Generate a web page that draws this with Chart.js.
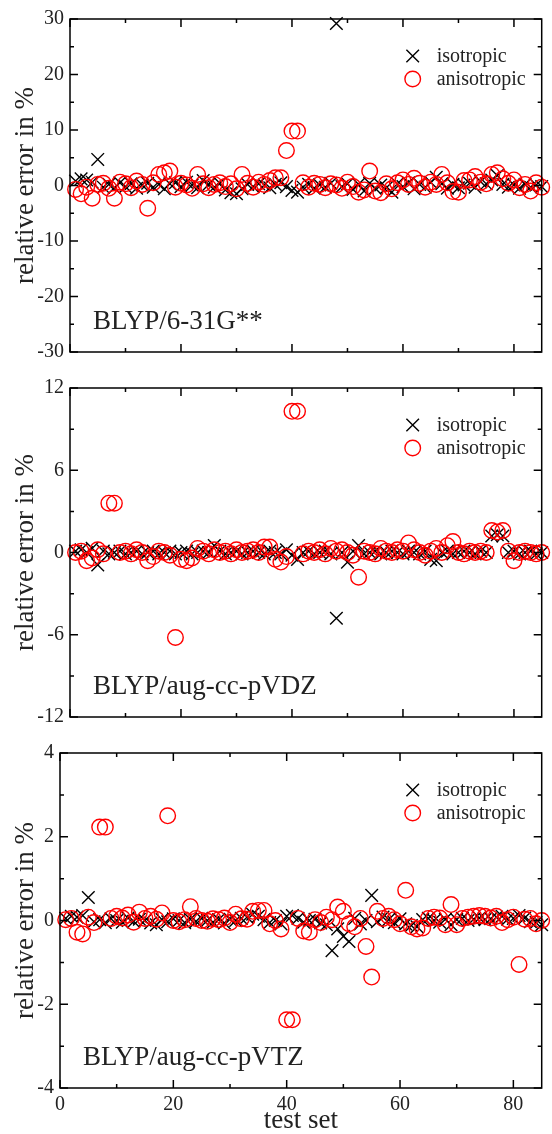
<!DOCTYPE html>
<html>
<head>
<meta charset="utf-8">
<title>BLYP relative error</title>
<script src="https://cdn.jsdelivr.net/npm/chart.js@4.4.0/dist/chart.umd.min.js"></script>
<style>
  html, body { margin: 0; padding: 0; background: #fff; }
  #page { position: relative; width: 552px; height: 1134px; overflow: hidden; }
  canvas { position: absolute; left: 0; }
</style>
</head>
<body>
<div id="page">
  <canvas id="g0" width="552" height="370" style="top:0px"></canvas>
  <canvas id="g1" width="552" height="365" style="top:370px"></canvas>
  <canvas id="g2" width="552" height="399" style="top:735px"></canvas>
</div>
<script>
// test set index (x)
const testSet = [
  1, 2, 3, 4, 5, 6, 7, 8, 9, 10,
  11, 12, 13, 14, 15, 16, 17, 18, 19, 20,
  21, 22, 23, 24, 25, 26, 27, 28, 29, 30,
  31, 32, 33, 34, 35, 36, 37, 38, 39, 40,
  41, 42, 43, 44, 45, 46, 47, 48, 49, 50,
  51, 52, 53, 54, 55, 56, 57, 58, 59, 60,
  61, 62, 63, 64, 65, 66, 67, 68, 69, 70,
  71, 72, 73, 74, 75, 76, 77, 78, 79, 80,
  81, 82, 83, 84, 85
];

// BLYP/6-31G**
const iso631 = [
  0.8, 1.2, 1.0, 0.6, 4.7, -0.3, 0.2, -0.4, 0.5, -0.2,
  0.3, -0.5, 0.1, 0.4, -0.3, 0.2, -0.6, 0.3, 0.5, -0.2,
  0.6, 0.1, -0.4, 0.9, 0.2, -0.3, 0.4, -0.8, -1.3, -1.5,
  -0.6, 0.2, -0.2, 0.3, 0.1, -0.4, 0.2, 0.5, -0.2, -0.9,
  -1.2, -0.3, 0.2, -0.5, 0.1, -0.3, 0.4, 29.2, -0.2, 0.3,
  -0.7, 0.2, -1.0, 0.4, -0.5, 0.1, -0.4, -1.2, 0.3, -0.2,
  0.5, -0.6, 0.2, -0.3, 0.6, 1.5, 0.3, -0.5, 0.2, -0.4,
  0.1, 0.4, -0.3, 0.7, 0.3, 1.0, 1.8, 0.2, -0.3, 0.1,
  -0.5, 0.2, -0.3, 0.1, -0.2
];
const aniso631 = [
  -0.7, -1.5, -0.3, -2.3, 0.2, 0.4, -0.5, -2.3, 0.6, 0.3,
  -0.4, 0.8, 0.2, -4.1, 0.5, 2.0, 2.3, 2.6, -0.3, 0.4,
  0.1, -0.5, 2.0, 0.3, -0.4, 0.2, 0.5, -0.2, 0.3, -0.6,
  2.0, 0.4, -0.3, 0.6, 0.2, 0.9, 1.4, 1.4, 6.3, 9.8,
  9.8, 0.5, -0.3, 0.4, 0.2, -0.4, 0.3, 0.1, -0.5, 0.6,
  -0.2, -1.2, -0.8, 2.6, -1.0, -1.3, 0.3, -0.6, 0.5, 1.0,
  0.2, 1.3, 0.4, -0.3, 0.6, 0.2, 2.0, 0.5, -1.1, -1.2,
  0.9, 1.0, 1.6, 0.6, 0.3, 2.0, 2.3, 1.2, 0.4, 1.0,
  -0.4, 0.2, -1.0, 0.5, -0.3
];

// BLYP/aug-cc-pVDZ
const isoVDZ = [
  0.1, 0.2, 0.0, 0.3, -0.9, 0.1, -0.1, 0.0, 0.1, -0.1,
  0.0, 0.1, -0.1, 0.0, 0.1, -0.1, 0.0, 0.1, -0.1, 0.0,
  0.1, -0.1, 0.0, 0.1, 0.0, 0.5, 0.1, -0.1, 0.0, 0.1,
  -0.1, 0.0, 0.1, 0.0, -0.1, 0.1, 0.0, -0.1, 0.2, -0.2,
  -0.5, 0.0, 0.1, -0.1, 0.0, 0.1, -0.1, -4.8, 0.0, -0.7,
  0.1, 0.5, -0.1, 0.0, 0.1, -0.1, 0.0, 0.1, 0.0, -0.1,
  0.1, 0.0, -0.1, 0.1, -0.5, -0.6, 0.0, 0.1, -0.1, 0.0,
  0.1, 0.0, -0.1, 0.1, 0.0, 1.2, 1.3, 1.2, 0.0, 0.1,
  -0.1, 0.0, 0.1, -0.1, 0.0
];
const anisoVDZ = [
  0.0, 0.1, -0.6, -0.4, 0.2, -0.1, 3.6, 3.6, 0.0, 0.1,
  -0.1, 0.2, 0.0, -0.6, -0.3, 0.1, 0.0, -0.2, -6.2, -0.5,
  -0.6, -0.4, 0.3, 0.1, -0.1, 0.2, 0.0, 0.1, -0.1, 0.2,
  0.0, 0.1, 0.2, 0.0, 0.4, 0.4, -0.5, -0.7, -0.3, 10.3,
  10.3, -0.1, 0.1, 0.0, 0.2, -0.1, 0.3, 0.1, 0.2, 0.0,
  -0.2, -1.8, 0.1, 0.0, -0.1, 0.3, 0.1, 0.0, 0.2, 0.1,
  0.7, 0.2, 0.0, -0.2, 0.1, 0.3, 0.0, 0.5, 0.8, 0.0,
  -0.1, 0.1, 0.0, 0.1, 0.0, 1.6, 1.5, 1.6, 0.1, -0.6,
  0.0, 0.1, 0.0, -0.1, 0.0
];

// BLYP/aug-cc-pVTZ
const isoVTZ = [
  0.05, 0.1, 0.08, 0.12, 0.55, -0.03, 0.02, -0.05, 0.04, 0.0,
  -0.04, 0.06, -0.02, 0.03, 0.0, -0.06, -0.1, 0.02, -0.03, 0.04,
  0.0, -0.05, 0.03, -0.02, 0.05, 0.0, -0.04, 0.02, -0.06, 0.03,
  0.0, 0.05, 0.08, 0.15, 0.1, 0.02, -0.05, 0.0, -0.08, 0.1,
  0.12, 0.05, -0.04, 0.0, 0.03, -0.06, -0.1, -0.72, -0.2, -0.38,
  -0.5, 0.05, -0.08, 0.0, 0.6, -0.03, 0.08, 0.02, -0.05, 0.04,
  -0.08, -0.12, -0.15, 0.02, 0.05, 0.0, -0.04, 0.03, -0.1, 0.02,
  0.05, 0.0, 0.03, 0.06, 0.02, 0.04, 0.08, 0.1, 0.03, 0.05,
  0.12, 0.06, -0.03, -0.05, -0.1
];
const anisoVTZ = [
  0.02, 0.05, -0.28, -0.32, 0.08, -0.05, 2.23, 2.23, 0.05, 0.1,
  0.06, 0.13, -0.04, 0.2, 0.05, 0.1, 0.03, 0.18, 2.5, 0.0,
  -0.03, 0.02, 0.33, 0.05, 0.0, -0.02, 0.04, 0.02, 0.06, -0.05,
  0.15, 0.04, 0.03, 0.22, 0.24, 0.24, -0.08, 0.0, -0.2, -2.37,
  -2.37, 0.05, -0.25, -0.28, 0.02, -0.05, 0.08, 0.02, 0.32, 0.22,
  -0.08, -0.15, 0.05, -0.62, -1.35, 0.22, 0.05, 0.1, 0.02, -0.08,
  0.72, -0.15, -0.2, -0.18, 0.05, 0.08, 0.06, -0.1, 0.38, -0.1,
  0.05, 0.08, 0.1, 0.12, 0.1, 0.06, 0.1, -0.05, 0.02, 0.08,
  -1.05, 0.03, 0.05, -0.08, 0.0
];

// axis ticks
const xTicks = [0, 20, 40, 60, 80];
const xMinorTicks = [10, 30, 50, 70];
const yTicks631 = [-30, -20, -10, 0, 10, 20, 30];
const yMinor631 = [-25, -15, -5, 5, 15, 25];
const yTicksVDZ = [-12, -6, 0, 6, 12];
const yMinorVDZ = [-9, -3, 3, 9];
const yTicksVTZ = [-4, -2, 0, 2, 4];
const yMinorVTZ = [-3, -1, 1, 3];

const panelNames = ['BLYP/6-31G**', 'BLYP/aug-cc-pVDZ', 'BLYP/aug-cc-pVTZ'];
const seriesNames = ['isotropic', 'anisotropic'];

const SERIF = '"Liberation Serif", "DejaVu Serif", serif';
const INK = '#222';

function toPoints(values) {
    return testSet.map((x, i) => ({ x: x, y: values[i] }));
}

// frame with inward ticks, panel name and legend drawn on top of the marks
function makeFrame(panel) {
    return {
        id: 'frame',
        afterDatasetsDraw(chart) {
            const { ctx, chartArea: a, scales: { x, y } } = chart;
            ctx.save();
            ctx.strokeStyle = '#000';
            ctx.lineWidth = 1.5;
            ctx.strokeRect(a.left, a.top, a.right - a.left, a.bottom - a.top);

            ctx.beginPath();
            const xTick = (v, len) => {
                const px = x.getPixelForValue(v);
                ctx.moveTo(px, a.bottom); ctx.lineTo(px, a.bottom - len);
                ctx.moveTo(px, a.top); ctx.lineTo(px, a.top + len);
            };
            const yTick = (v, len) => {
                const py = y.getPixelForValue(v);
                ctx.moveTo(a.left, py); ctx.lineTo(a.left + len, py);
                ctx.moveTo(a.right, py); ctx.lineTo(a.right - len, py);
            };
            xTicks.forEach(v => xTick(v, 8));
            xMinorTicks.forEach(v => xTick(v, 4));
            panel.yTicks.forEach(v => yTick(v, 8));
            panel.yMinor.forEach(v => yTick(v, 4));
            ctx.stroke();

            // panel name
            ctx.fillStyle = INK;
            ctx.font = '27px ' + SERIF;
            ctx.textAlign = 'left';
            ctx.textBaseline = 'alphabetic';
            ctx.fillText(panel.name, a.left + 23, a.bottom - 23);

            // legend
            const lx = a.right - 129;
            const ly = a.top + 37;
            ctx.lineWidth = 1.4;
            ctx.strokeStyle = '#000';
            ctx.beginPath();
            ctx.moveTo(lx - 6.3, ly - 6.3); ctx.lineTo(lx + 6.3, ly + 6.3);
            ctx.moveTo(lx - 6.3, ly + 6.3); ctx.lineTo(lx + 6.3, ly - 6.3);
            ctx.stroke();
            ctx.strokeStyle = '#ff0000';
            ctx.beginPath();
            ctx.arc(lx, ly + 23, 7.8, 0, Math.PI * 2);
            ctx.stroke();

            ctx.font = '20px ' + SERIF;
            ctx.textBaseline = 'middle';
            ctx.fillText(chart.data.datasets[1].label, lx + 24, ly + 1);
            ctx.fillText(chart.data.datasets[0].label, lx + 24, ly + 24);
            ctx.restore();
        }
    };
}

function makePanel(canvasId, panel) {
    new Chart(document.getElementById(canvasId), {
        type: 'scatter',
        data: {
            datasets: [
                {
                    label: seriesNames[1],
                    data: toPoints(panel.aniso),
                    pointStyle: 'circle',
                    pointRadius: 7.8,
                    pointBorderWidth: 1.4,
                    pointBorderColor: '#ff0000',
                    pointBackgroundColor: 'rgba(0,0,0,0)',
                    showLine: false,
                    clip: false
                },
                {
                    label: seriesNames[0],
                    data: toPoints(panel.iso),
                    pointStyle: 'crossRot',
                    pointRadius: 8.9,
                    pointBorderWidth: 1.4,
                    pointBorderColor: '#000',
                    pointBackgroundColor: '#000',
                    showLine: false,
                    clip: false
                }
            ]
        },
        options: {
            responsive: false,
            animation: false,
            events: [],
            layout: { padding: { top: panel.padTop, right: 5, bottom: 0, left: 0 } },
            plugins: {
                legend: { display: false },
                tooltip: { enabled: false }
            },
            scales: {
                x: {
                    type: 'linear',
                    min: 0,
                    max: 85,
                    afterBuildTicks: s => { s.ticks = xTicks.map(v => ({ value: v })); },
                    afterFit: s => { s.height = panel.xHeight; },
                    grid: { display: false, drawTicks: false },
                    border: { display: false },
                    ticks: {
                        display: panel.showX,
                        color: INK,
                        padding: 5,
                        maxRotation: 0,
                        autoSkip: false,
                        font: { family: SERIF, size: 20 },
                        callback: v => String(v)
                    },
                    title: {
                        display: panel.showX,
                        text: 'test set',
                        color: INK,
                        font: { family: SERIF, size: 27, lineHeight: 1 },
                        padding: { top: 0, bottom: 0 }
                    }
                },
                y: {
                    type: 'linear',
                    min: panel.yTicks[0],
                    max: panel.yTicks[panel.yTicks.length - 1],
                    afterBuildTicks: s => { s.ticks = panel.yTicks.map(v => ({ value: v })); },
                    afterFit: s => { s.width = panel.yWidth; },
                    grid: { display: false, drawTicks: false },
                    border: { display: false },
                    ticks: {
                        color: INK,
                        padding: 6,
                        font: { family: SERIF, size: 20 },
                        callback: v => String(v)
                    },
                    title: {
                        display: true,
                        text: 'relative error in %',
                        color: INK,
                        font: { family: SERIF, size: 27, lineHeight: 1.2 },
                        padding: { top: 10, bottom: 0 }
                    }
                }
            }
        },
        plugins: [makeFrame(panel)]
    });
}

makePanel('g0', {
    name: panelNames[0], iso: iso631, aniso: aniso631,
    yTicks: yTicks631, yMinor: yMinor631,
    padTop: 19, xHeight: 17, yWidth: 70, showX: false
});
makePanel('g1', {
    name: panelNames[1], iso: isoVDZ, aniso: anisoVDZ,
    yTicks: yTicksVDZ, yMinor: yMinorVDZ,
    padTop: 15, xHeight: 15, yWidth: 70, showX: false
});
makePanel('g2', {
    name: panelNames[2], iso: isoVTZ, aniso: anisoVTZ,
    yTicks: yTicksVTZ, yMinor: yMinorVTZ,
    padTop: 15, xHeight: 46, yWidth: 60, showX: true
});
</script>
</body>
</html>
